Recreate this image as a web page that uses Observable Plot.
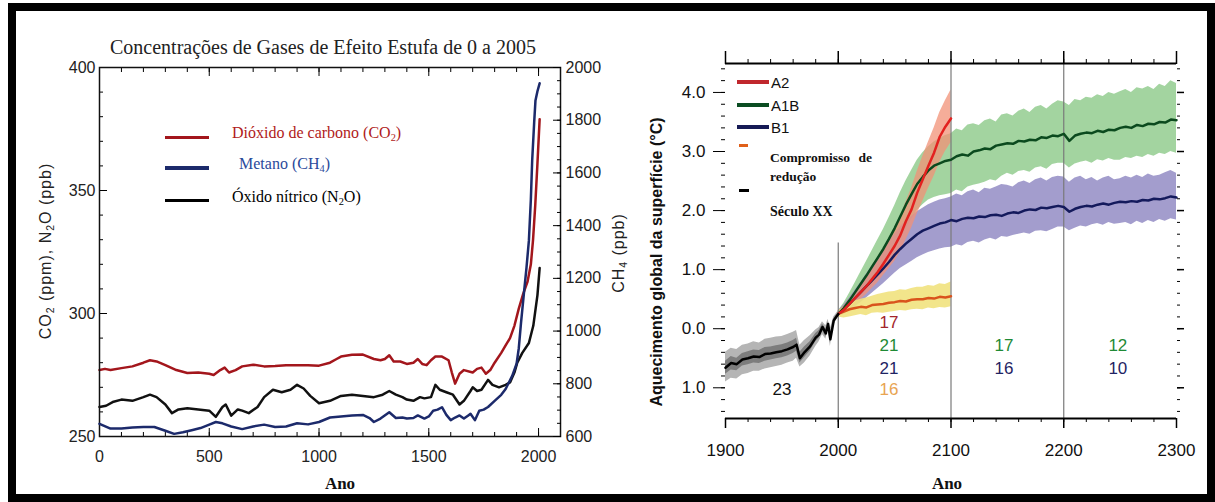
<!DOCTYPE html>
<html>
<head>
<meta charset="utf-8">
<script src="https://cdn.jsdelivr.net/npm/d3@7"></script>
<script src="https://cdn.jsdelivr.net/npm/@observablehq/plot@0.6"></script>
<style>
html,body{margin:0;padding:0;background:#fff;}
#root{position:relative;width:1215px;height:502px;overflow:hidden;background:#fff;}
#frame{position:absolute;left:8px;top:3px;width:1207px;height:499px;box-sizing:border-box;border:8px solid #000;z-index:20;}
.abs{position:absolute;white-space:nowrap;line-height:1;z-index:10;}
.plot{position:absolute;top:0;}
.serif{font-family:"Liberation Serif","Times New Roman",serif;}
.sans{font-family:"Liberation Sans",Arial,sans-serif;}
.rot{transform:translate(-50%,-50%) rotate(-90deg);}
.ctr{transform:translate(-50%,-50%);}
.vmid{transform:translateY(-50%);}
.sw{position:absolute;z-index:10;}
sub{font-size:0.65em;vertical-align:-0.25em;line-height:0;}
</style>
</head>
<body>
<div id="root">
  <div id="leftPlot" class="plot" style="left:0;width:620px;"></div>
  <div id="leftPlot2" class="plot" style="left:0;width:620px;"></div>
  <div id="rightPlot" class="plot" style="left:620px;width:595px;"></div>

  <div class="abs serif ctr" style="left:323px;top:47px;font-size:20px;color:#222;">Concentrações de Gases de Efeito Estufa de 0 a 2005</div>
  <div class="abs sans rot" style="left:46px;top:251px;font-size:16px;letter-spacing:1px;color:#222;">CO<sub>2</sub> (ppm), N<sub>2</sub>O (ppb)</div>
  <div class="abs sans rot" style="left:619px;top:253px;font-size:16px;letter-spacing:1px;color:#222;">CH<sub>4</sub> (ppb)</div>
  <div class="abs serif ctr" style="left:340px;top:483px;font-size:17px;font-weight:bold;color:#111;">Ano</div>
  <div class="abs serif ctr" style="left:947px;top:483px;font-size:17px;font-weight:bold;color:#111;">Ano</div>
  <div class="abs sans rot" style="left:657px;top:262px;font-size:16px;font-weight:bold;color:#111;">Aquecimento global da superfície (°C)</div>

  <!-- left legend -->
  <div class="sw" style="left:165px;top:135.5px;width:44px;height:3px;background:#a3161c;"></div>
  <div class="sw" style="left:165px;top:166px;width:44px;height:4px;background:#1c2a6b;"></div>
  <div class="sw" style="left:165px;top:198.5px;width:44px;height:3px;background:#000;"></div>
  <div class="abs serif vmid" style="left:232px;top:133px;font-size:16px;color:#b01a20;">Dióxido de carbono (CO<sub>2</sub>)</div>
  <div class="abs serif vmid" style="left:239px;top:164px;font-size:16px;color:#2b4a9b;">Metano (CH<sub>4</sub>)</div>
  <div class="abs serif vmid" style="left:232px;top:197px;font-size:16px;color:#000;">Óxido nítrico (N<sub>2</sub>O)</div>

  <!-- right legend -->
  <div class="sw" style="left:737px;top:80px;width:32px;height:4px;background:#c0272d;"></div>
  <div class="sw" style="left:737px;top:103px;width:32px;height:4px;background:#0b4d22;"></div>
  <div class="sw" style="left:737px;top:125px;width:32px;height:4px;background:#161a55;"></div>
  <div class="sw" style="left:739px;top:143.5px;width:9px;height:3px;background:#e0601a;"></div>
  <div class="sw" style="left:739px;top:188.5px;width:10px;height:3px;background:#000;"></div>
  <div class="abs sans vmid" style="left:771px;top:82px;font-size:15px;color:#111;">A2</div>
  <div class="abs sans vmid" style="left:771px;top:105px;font-size:15px;color:#111;">A1B</div>
  <div class="abs sans vmid" style="left:771px;top:127px;font-size:15px;color:#111;">B1</div>
  <div class="abs serif vmid" style="left:770px;top:158px;font-size:13.5px;font-weight:bold;word-spacing:5px;color:#111;">Compromisso de</div>
  <div class="abs serif vmid" style="left:770px;top:177px;font-size:13.5px;font-weight:bold;color:#111;">redução</div>
  <div class="abs serif vmid" style="left:770px;top:212px;font-size:14px;font-weight:bold;color:#111;">Século XX</div>

  <div id="frame"></div>
</div>
<script>
// ================= LEFT PANEL DATA =================
const leftXDomain = [0, 2100];
const leftYDomain = [250, 400];      // CO2 (ppm), N2O (ppb)
const ch4Domain = [600, 2000];       // CH4 (ppb)
const leftXTicks = [0, 500, 1000, 1500, 2000];
const leftYTicks = [250, 300, 350, 400];
const ch4Ticks = [600, 800, 1000, 1200, 1400, 1600, 1800, 2000];

const co2Years = [0,25,50,100,150,200,230,260,300,350,400,450,500,520,550,570,590,620,650,700,750,800,850,900,950,1000,1050,1080,1100,1150,1200,1250,1280,1300,1320,1340,1370,1400,1430,1450,1470,1490,1510,1530,1560,1590,1605,1620,1640,1660,1700,1720,1740,1760,1780,1800,1830,1850,1870,1890,1910,1930,1950,1965,1975,1985,1995,2005];
const co2Values = [277,277.5,277,277.8,278.5,280,281,280.5,279,277,275.8,276,275.5,275,277,278,276,277,278.5,279.2,278.5,278.7,279,279,279,278.8,280,281.5,282.5,283.2,283.3,281.5,281,281.5,283,280.5,280.5,279.5,280,281.5,279.5,279,281,282.5,282.5,281,276,271.5,275.5,277,276,277.5,278,275.5,277,280,284,287,290,295,302,308,313,320,330,344,361,379];

const n2oYears = [0,30,60,100,150,200,230,260,300,330,360,400,450,500,530,560,575,600,630,650,680,720,750,790,830,870,900,930,960,1000,1050,1100,1150,1200,1250,1290,1320,1350,1380,1400,1430,1460,1480,1510,1530,1550,1580,1610,1640,1660,1690,1700,1720,1740,1770,1790,1820,1850,1870,1890,1903,1926,1956,1976,1995,2005];
const n2oValues = [262,262.5,264,265,264.5,266,267,266,263,259.5,261,261.5,261,260.5,258,262,263,258.5,261,260.5,259.5,262,266,269,268,269,271,269.5,266.5,263.5,264.5,266.5,267,266.5,266,267,268.5,267,266,265,264.5,266,265.5,266,271,269,268,267,263,264.5,268.5,270,268.5,269,273,271,270,271,272,276,280,284,288,295,307.5,318.5];

const ch4Years = [0,50,100,150,200,250,300,340,380,420,460,500,530,560,600,650,700,750,800,850,900,950,1000,1050,1100,1150,1200,1230,1250,1280,1320,1350,1380,1400,1430,1450,1480,1500,1520,1540,1560,1580,1600,1620,1640,1660,1680,1690,1710,1730,1750,1770,1800,1830,1850,1880,1900,1910,1920,1933,1945,1956,1965,1971,1980,1986,1995,2005];
const ch4Values = [648,630,630,634,636,636,622,610,616,624,632,645,655,650,638,628,638,645,636,638,650,646,655,672,676,680,682,670,655,668,692,670,672,668,670,680,668,676,698,702,711,682,662,672,680,668,680,686,662,698,702,712,735,758,780,830,876,935,1030,1140,1240,1343,1500,1647,1790,1875,1910,1940];

// ================= RIGHT PANEL DATA =================
const rightXDomain = [1900, 2300];
const rightYDomain = [-1.52, 4.49];
const rightXTicks = [1900, 2000, 2100, 2200, 2300];
const rightYTicks = [-1, 0, 1, 2, 3, 4];

// 20th century
const xxYears = [1900,1905,1910,1915,1920,1925,1930,1935,1940,1945,1950,1955,1960,1963,1966,1970,1975,1980,1983,1986,1989,1991,1993,1996,2000];
const xxMean = [-0.66,-0.58,-0.6,-0.52,-0.5,-0.47,-0.48,-0.43,-0.42,-0.4,-0.38,-0.35,-0.31,-0.27,-0.5,-0.4,-0.3,-0.15,-0.1,0.03,-0.08,0.08,-0.18,0.14,0.25];
const xxOuterHigh = [-0.4,-0.33,-0.35,-0.28,-0.26,-0.22,-0.24,-0.18,-0.16,-0.14,-0.13,-0.1,-0.06,-0.03,-0.28,-0.2,-0.12,-0.02,0.02,0.12,0.05,0.16,0.0,0.2,0.3];
const xxOuterLow = [-0.9,-0.84,-0.85,-0.78,-0.76,-0.72,-0.72,-0.68,-0.66,-0.64,-0.62,-0.58,-0.55,-0.5,-0.65,-0.58,-0.46,-0.3,-0.22,-0.1,-0.18,-0.02,-0.3,0.06,0.2];
const xxInnerHigh = [-0.55,-0.47,-0.5,-0.42,-0.39,-0.36,-0.37,-0.32,-0.31,-0.29,-0.27,-0.24,-0.2,-0.16,-0.4,-0.31,-0.22,-0.08,-0.03,0.08,-0.01,0.12,-0.1,0.17,0.27];
const xxInnerLow = [-0.77,-0.7,-0.71,-0.63,-0.61,-0.58,-0.59,-0.55,-0.53,-0.51,-0.49,-0.46,-0.42,-0.38,-0.58,-0.49,-0.38,-0.22,-0.16,-0.03,-0.14,0.03,-0.24,0.1,0.23];

// 21st century scenarios (every 5 years, 2000-2100)
const scenYears = d3.range(2000, 2101, 5);
const a2Mean = [0.25,0.32,0.42,0.52,0.62,0.72,0.84,0.96,1.1,1.25,1.4,1.58,1.82,2.02,2.3,2.53,2.76,2.98,3.25,3.42,3.56];
const a2High = [0.3,0.38,0.5,0.62,0.74,0.86,1.0,1.14,1.3,1.48,1.66,1.88,2.14,2.38,2.66,2.92,3.16,3.4,3.66,3.86,4.04];
const a2Low = [0.2,0.26,0.34,0.42,0.5,0.58,0.68,0.78,0.9,1.02,1.14,1.3,1.5,1.7,1.94,2.16,2.38,2.58,2.82,3.0,3.15];
const commitMean = [0.25,0.29,0.33,0.35,0.37,0.36,0.4,0.41,0.42,0.44,0.45,0.47,0.46,0.49,0.5,0.5,0.52,0.51,0.54,0.53,0.55];
const commitHigh = [0.3,0.36,0.42,0.47,0.5,0.52,0.55,0.58,0.6,0.62,0.63,0.66,0.65,0.68,0.7,0.7,0.73,0.72,0.76,0.75,0.79];
const commitLow = [0.2,0.18,0.2,0.22,0.24,0.22,0.26,0.27,0.26,0.28,0.29,0.31,0.3,0.32,0.33,0.32,0.35,0.34,0.36,0.35,0.37];

// Scenarios extended to 2300 (every 5 years)
const longYears = d3.range(2000, 2301, 5);
const a1bMean = [0.25,0.35,0.48,0.62,0.76,0.9,1.05,1.2,1.35,1.52,1.7,1.9,2.1,2.28,2.45,2.57,2.68,2.76,2.8,2.84,2.86,
  2.92,2.95,2.93,3.0,3.02,3.05,3.04,3.1,3.12,3.14,3.13,3.18,3.17,3.2,3.19,3.24,3.23,3.27,3.26,3.3,
  3.18,3.27,3.3,3.32,3.31,3.35,3.33,3.37,3.36,3.4,3.42,3.4,3.45,3.43,3.47,3.46,3.5,3.49,3.54,3.53];
const a1bHigh = [0.3,0.43,0.6,0.78,0.96,1.14,1.32,1.5,1.68,1.88,2.08,2.3,2.5,2.68,2.85,2.98,3.08,3.16,3.22,3.27,3.3,
  3.38,3.35,3.45,3.47,3.44,3.52,3.55,3.5,3.62,3.64,3.6,3.68,3.72,3.66,3.75,3.78,3.72,3.8,3.86,3.84,
  3.78,3.88,3.86,3.92,3.9,3.96,3.93,4.0,3.97,4.01,4.05,4.0,4.08,4.06,4.1,4.05,4.14,4.1,4.2,4.15];
const a1bLow = [0.2,0.28,0.38,0.48,0.58,0.68,0.8,0.92,1.04,1.18,1.32,1.5,1.68,1.85,2.0,2.1,2.18,2.22,2.25,2.27,2.29,
  2.35,2.32,2.4,2.43,2.45,2.48,2.52,2.5,2.58,2.63,2.6,2.66,2.68,2.65,2.72,2.74,2.7,2.78,2.8,2.8,
  2.72,2.79,2.82,2.84,2.8,2.86,2.84,2.88,2.85,2.85,2.9,2.88,2.92,2.9,2.95,2.92,2.97,2.95,3.0,2.97];
const b1Mean = [0.25,0.33,0.42,0.52,0.62,0.72,0.82,0.92,1.02,1.13,1.25,1.35,1.44,1.52,1.6,1.66,1.7,1.74,1.78,1.8,1.84,
  1.82,1.86,1.88,1.87,1.9,1.89,1.92,1.93,1.91,1.95,1.97,1.96,2.0,2.02,2.01,2.05,2.04,2.06,2.08,2.06,
  1.98,2.03,2.06,2.08,2.07,2.1,2.12,2.1,2.13,2.15,2.14,2.16,2.15,2.18,2.17,2.2,2.19,2.21,2.24,2.22];
const b1High = [0.3,0.4,0.52,0.65,0.78,0.92,1.06,1.2,1.34,1.48,1.6,1.72,1.82,1.9,1.98,2.04,2.1,2.14,2.18,2.2,2.23,
  2.28,2.25,2.32,2.35,2.3,2.38,2.36,2.4,2.44,2.43,2.4,2.47,2.5,2.46,2.52,2.55,2.5,2.56,2.58,2.57,
  2.48,2.55,2.58,2.52,2.56,2.5,2.55,2.58,2.52,2.54,2.58,2.55,2.6,2.56,2.62,2.58,2.6,2.64,2.68,2.63];
const b1Low = [0.2,0.24,0.3,0.37,0.44,0.52,0.6,0.68,0.76,0.85,0.94,1.02,1.08,1.14,1.2,1.25,1.29,1.32,1.35,1.37,1.38,
  1.42,1.4,1.46,1.48,1.45,1.5,1.53,1.5,1.56,1.55,1.58,1.6,1.62,1.6,1.65,1.66,1.64,1.68,1.72,1.72,
  1.66,1.7,1.74,1.72,1.76,1.78,1.75,1.8,1.77,1.78,1.8,1.76,1.82,1.78,1.83,1.8,1.85,1.82,1.86,1.84];

// Period dividers
const dividerYears = [2000, 2100, 2200];
const dividerTops = [1.45, 4.49, 4.49];

// Number of models per period and scenario
const countX = [1950, 2045, 2045, 2045, 2045, 2147, 2147, 2248, 2248];
const countText = ["23", "17", "21", "21", "16", "17", "16", "12", "10"];
const countRow = [3, 0, 1, 2, 3, 1, 2, 1, 2];
const countColor = ["#111", "#a3262b", "#1f8a35", "#1f2463", "#e8a452", "#1f8a35", "#1f2463", "#1f8a35", "#1f2463"];

// ================= RENDER =================
const SANS = "'Liberation Sans', Arial, sans-serif";
const baseStyle = {background: "transparent", fontFamily: SANS, overflow: "visible"};
const intFmt = d => String(d);

const left = Plot.plot({
  width: 620, height: 502,
  marginLeft: 99, marginRight: 60, marginTop: 67, marginBottom: 66,
  style: baseStyle,
  x: {domain: leftXDomain, axis: null},
  y: {domain: leftYDomain, axis: null},
  marks: [
    Plot.line(co2Years, {x: co2Years, y: co2Values, stroke: "#a3161c", strokeWidth: 2.5}),
    Plot.line(n2oYears, {x: n2oYears, y: n2oValues, stroke: "#111", strokeWidth: 2.5}),
    Plot.axisX({anchor: "bottom", ticks: leftXTicks, tickSize: 0, tickPadding: 14, fontSize: 16, fill: "#222", tickFormat: intFmt, label: null}),
    Plot.axisX({anchor: "bottom", ticks: d3.range(0, 2101, 100), tickSize: 4, dy: -4, fill: "none", label: null}),
    Plot.axisX({anchor: "bottom", ticks: leftXTicks, tickSize: 8, dy: -8, fill: "none", label: null}),
    Plot.axisX({anchor: "top", ticks: d3.range(0, 2101, 100), tickSize: 4, dy: 4, fill: "none", label: null}),
    Plot.axisX({anchor: "top", ticks: leftXTicks, tickSize: 8, dy: 8, fill: "none", label: null}),
    Plot.axisY({anchor: "left", ticks: leftYTicks, tickSize: 0, tickPadding: 4, fontSize: 16, fill: "#222", tickFormat: intFmt, label: null}),
    Plot.axisY({anchor: "left", ticks: d3.range(250, 401, 10), tickSize: 4, dx: 4, fill: "none", label: null}),
    Plot.axisY({anchor: "left", ticks: leftYTicks, tickSize: 8, dx: 8, fill: "none", label: null}),
    Plot.frame({stroke: "#111", strokeWidth: 1.5})
  ]
});
document.getElementById("leftPlot").appendChild(left);

const leftCH4 = Plot.plot({
  width: 620, height: 502,
  marginLeft: 99, marginRight: 60, marginTop: 67, marginBottom: 66,
  style: baseStyle,
  x: {domain: leftXDomain, axis: null},
  y: {domain: ch4Domain, axis: null},
  marks: [
    Plot.line(ch4Years, {x: ch4Years, y: ch4Values, stroke: "#1c2a6b", strokeWidth: 2.5}),
    Plot.axisY({anchor: "right", ticks: ch4Ticks, tickSize: 0, tickPadding: 5, fontSize: 16, fill: "#222", tickFormat: intFmt, label: null}),
    Plot.axisY({anchor: "right", ticks: d3.range(600, 2001, 50), tickSize: 4, dx: -4, fill: "none", label: null}),
    Plot.axisY({anchor: "right", ticks: ch4Ticks, tickSize: 8, dx: -8, fill: "none", label: null})
  ]
});
document.getElementById("leftPlot2").appendChild(leftCH4);

const fmt = d3.format(".1f");
const rowOffsets = [-91, -68, -45, -24];
const countIdx = d3.range(countText.length);

const right = Plot.plot({
  width: 595, height: 502,
  marginLeft: 105, marginRight: 39, marginTop: 63, marginBottom: 84,
  style: baseStyle,
  x: {domain: rightXDomain, axis: null},
  y: {domain: rightYDomain, axis: null},
  color: {type: "identity"},
  marks: [
    Plot.areaY(longYears, {x: longYears, y1: a1bLow, y2: a1bHigh, fill: "#93cc8f", fillOpacity: 0.85}),
    Plot.areaY(longYears, {x: longYears, y1: b1Low, y2: b1High, fill: "#938cc4", fillOpacity: 0.85}),
    Plot.areaY(scenYears, {x: scenYears, y1: a2Low, y2: a2High, fill: "#f29277", fillOpacity: 0.75}),
    Plot.areaY(scenYears, {x: scenYears, y1: commitLow, y2: commitHigh, fill: "#f1e27e", fillOpacity: 0.9}),
    Plot.areaY(xxYears, {x: xxYears, y1: xxOuterLow, y2: xxOuterHigh, fill: "#b5b5b5"}),
    Plot.areaY(xxYears, {x: xxYears, y1: xxInnerLow, y2: xxInnerHigh, fill: "#7d7d7d"}),
    Plot.ruleX(dividerYears, {x: dividerYears, y1: rightYDomain[0], y2: dividerTops, stroke: "#7a7a7a", strokeWidth: 1.2}),
    Plot.line(scenYears, {x: scenYears, y: commitMean, stroke: "#d9531c", strokeWidth: 2.5}),
    Plot.line(longYears, {x: longYears, y: b1Mean, stroke: "#141a5c", strokeWidth: 2.5}),
    Plot.line(longYears, {x: longYears, y: a1bMean, stroke: "#0b4a1e", strokeWidth: 2.5}),
    Plot.line(scenYears, {x: scenYears, y: a2Mean, stroke: "#e3211f", strokeWidth: 2.5}),
    Plot.line(xxYears, {x: xxYears, y: xxMean, stroke: "#000", strokeWidth: 2.5}),
    Plot.ruleY([rightYDomain[0]], {stroke: "#000", strokeWidth: 2}),
    Plot.ruleY([rightYDomain[1]], {stroke: "#000", strokeWidth: 2}),
    Plot.axisX({anchor: "bottom", ticks: rightXTicks, tickSize: 10, tickPadding: 15, fontSize: 17, fill: "#111", strokeWidth: 1.5, tickFormat: intFmt, label: null}),
    Plot.axisX({anchor: "bottom", ticks: d3.range(1900, 2301, 20), tickSize: 4, fill: "none", label: null}),
    Plot.axisX({anchor: "top", ticks: rightXTicks, tickSize: 13, fill: "none", strokeWidth: 1.5, label: null}),
    Plot.axisX({anchor: "top", ticks: d3.range(1900, 2301, 20), tickSize: 5, fill: "none", label: null}),
    Plot.axisY({anchor: "left", ticks: rightYTicks, tickSize: 12, tickPadding: 8, fontSize: 17, fill: "#111", tickFormat: d => fmt(Math.abs(d)), label: null}),
    Plot.axisY({anchor: "left", ticks: d3.range(-1.4, 4.41, 0.2), tickSize: 4, fill: "none", label: null}),
    Plot.axisY({anchor: "right", ticks: rightYTicks, tickSize: 7, fill: "none", strokeWidth: 1.5, label: null}),
    Plot.axisY({anchor: "right", ticks: d3.range(-1.4, 4.41, 0.2), tickSize: 3, fill: "none", label: null}),
    ...rowOffsets.map((off, r) => Plot.text(countIdx.filter(i => countRow[i] === r), {
      x: i => countX[i], text: i => countText[i], fill: i => countColor[i],
      frameAnchor: "bottom", dy: off, fontSize: 17, fontFamily: SANS
    }))
  ]
});
document.getElementById("rightPlot").appendChild(right);
</script>
</body>
</html>
